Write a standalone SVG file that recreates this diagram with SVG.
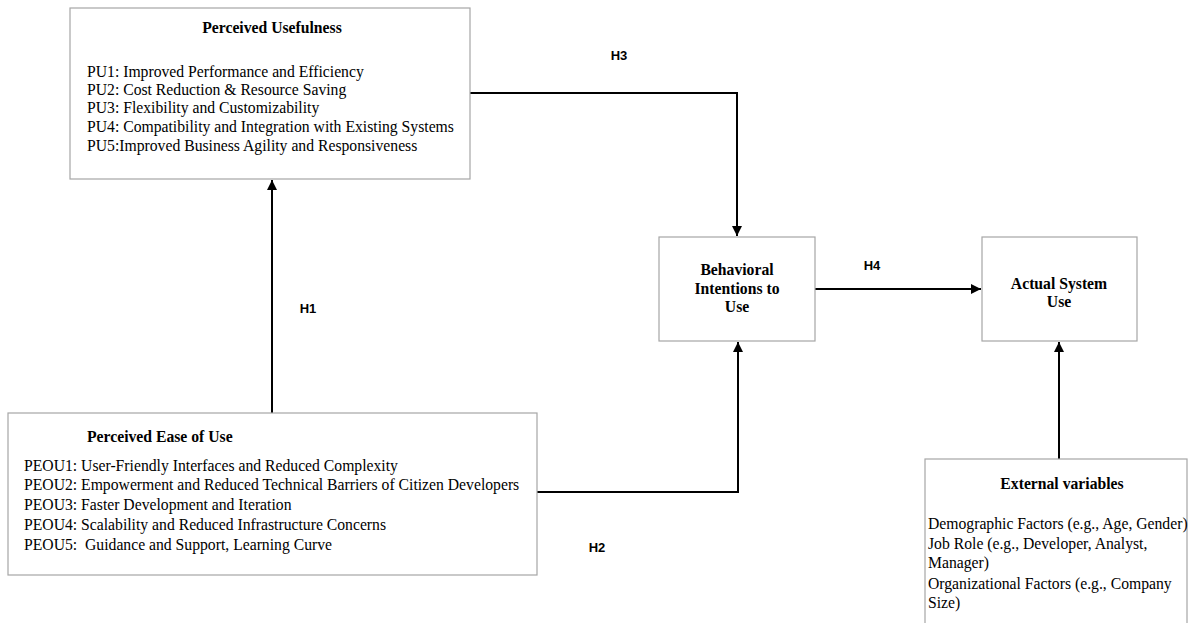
<svg xmlns="http://www.w3.org/2000/svg" width="1198" height="623" viewBox="0 0 1198 623">
<defs>
<style>
.box{fill:#ffffff;stroke:#a6a6a6;stroke-width:1.2}
.t{font-family:"Liberation Serif","Times New Roman",serif;font-size:15.7px;fill:#000}
.b{font-family:"Liberation Serif","Times New Roman",serif;font-size:15.7px;font-weight:bold;fill:#000}
.h{font-family:"Liberation Sans",Arial,sans-serif;font-size:13px;font-weight:bold;fill:#000}
.c{fill:none;stroke:#000;stroke-width:2}
</style>
<marker id="ah" viewBox="0 0 10 10" refX="10" refY="5" markerWidth="10" markerHeight="10" markerUnits="userSpaceOnUse" orient="auto">
<path d="M0,0 L10,5 L0,10 Z" fill="#000"/>
</marker>
</defs>
<rect width="1198" height="623" fill="#ffffff"/>
<g id="connectors">
<path class="c" d="M272,413 V180" marker-end="url(#ah)"/>
<path class="c" d="M470,93 H737 V236" marker-end="url(#ah)"/>
<path class="c" d="M537,492 H738 V342" marker-end="url(#ah)"/>
<path class="c" d="M815,289 H981" marker-end="url(#ah)"/>
<path class="c" d="M1059,459 V342" marker-end="url(#ah)"/>
<text class="h" x="619" y="60" text-anchor="middle">H3</text>
<text class="h" x="308" y="313" text-anchor="middle">H1</text>
<text class="h" x="872" y="270" text-anchor="middle">H4</text>
<text class="h" x="597" y="552" text-anchor="middle">H2</text>
</g>
<g id="pu">
<rect class="box" x="70" y="8" width="400" height="171"/>
<text class="b" x="272" y="33" text-anchor="middle">Perceived Usefulness</text>
<text class="t" x="87" y="77">PU1: Improved Performance and Efficiency</text>
<text class="t" x="87" y="95">PU2: Cost Reduction &amp; Resource Saving</text>
<text class="t" x="87" y="113">PU3: Flexibility and Customizability</text>
<text class="t" x="87" y="132">PU4: Compatibility and Integration with Existing Systems</text>
<text class="t" x="87" y="151">PU5:Improved Business Agility and Responsiveness</text>
</g>
<g id="peou">
<rect class="box" x="8" y="413" width="529" height="162"/>
<text class="b" x="87" y="442">Perceived Ease of Use</text>
<text class="t" x="24" y="471">PEOU1: User-Friendly Interfaces and Reduced Complexity</text>
<text class="t" x="24" y="490">PEOU2: Empowerment and Reduced Technical Barriers of Citizen Developers</text>
<text class="t" x="24" y="510">PEOU3: Faster Development and Iteration</text>
<text class="t" x="24" y="530">PEOU4: Scalability and Reduced Infrastructure Concerns</text>
<text class="t" x="24" y="550" xml:space="preserve">PEOU5:  Guidance and Support, Learning Curve</text>
</g>
<g id="bi">
<rect class="box" x="659" y="237" width="156" height="104"/>
<text class="b" x="737" y="275" text-anchor="middle">Behavioral</text>
<text class="b" x="737" y="294" text-anchor="middle">Intentions to</text>
<text class="b" x="737" y="312" text-anchor="middle">Use</text>
</g>
<g id="asu">
<rect class="box" x="982" y="237" width="155" height="104"/>
<text class="b" x="1059" y="289" text-anchor="middle">Actual System</text>
<text class="b" x="1059" y="307" text-anchor="middle">Use</text>
</g>
<g id="ext">
<rect class="box" x="925" y="459" width="262" height="170"/>
<text class="b" x="1062" y="489" text-anchor="middle">External variables</text>
<text class="t" x="928" y="529">Demographic Factors (e.g., Age, Gender)</text>
<text class="t" x="928" y="549">Job Role (e.g., Developer, Analyst,</text>
<text class="t" x="928" y="568">Manager)</text>
<text class="t" x="928" y="589">Organizational Factors (e.g., Company</text>
<text class="t" x="928" y="608">Size)</text>
</g>
</svg>
